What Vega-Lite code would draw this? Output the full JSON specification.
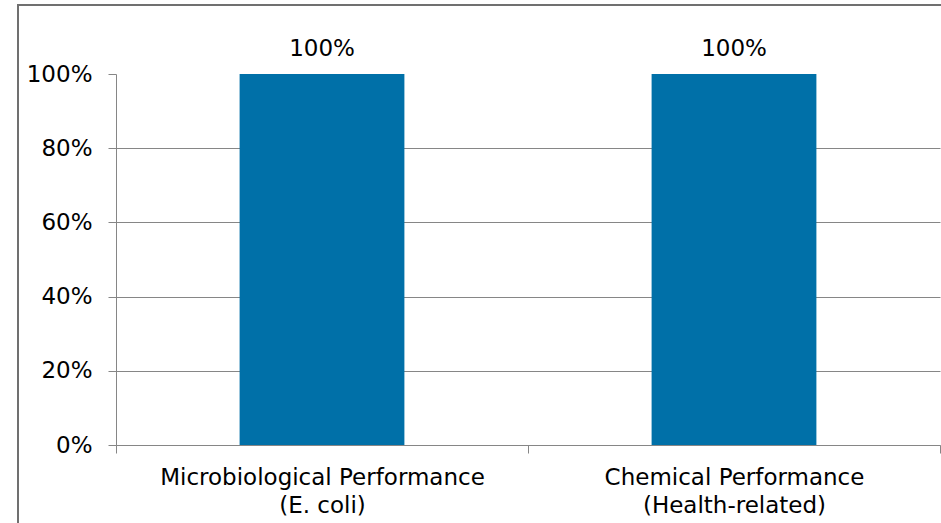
{
  "$schema": "https://vega.github.io/schema/vega-lite/v6.json",
  "autosize": {"type": "none"},
  "padding": {"left": 18, "top": 5, "right": 0, "bottom": 0},
  "width": 930,
  "height": 525,
  "background": "white",
  "config": {
    "view": {"stroke": "#707070", "strokeWidth": 2},
    "font": "DejaVu Sans"
  },
  "data": {
    "values": [
      {"category": "Microbiological Performance (E. coli)", "share": 1},
      {"category": "Chemical Performance (Health-related)", "share": 1}
    ]
  },
  "encoding": {
    "x": {
      "field": "category",
      "type": "nominal",
      "sort": null,
      "scale": {"range": [98, 922], "paddingInner": 0, "paddingOuter": 0},
      "axis": {
        "title": null,
        "orient": "bottom",
        "offset": -85,
        "labelAngle": 0,
        "labelFont": "DejaVu Sans",
        "labelFontSize": 23,
        "labelColor": "#000000",
        "labelPadding": 13,
        "labelLineHeight": 28,
        "labelLimit": 0,
        "labelExpr": "[slice(datum.label, 0, indexof(datum.label, ' (')), slice(datum.label, indexof(datum.label, ' (') + 1)]",
        "tickBand": "extent",
        "tickSize": 8,
        "tickColor": "#868686",
        "domainColor": "#868686",
        "grid": false
      }
    },
    "y": {
      "field": "share",
      "type": "quantitative",
      "scale": {"domain": [0, 1], "range": [440, 69], "nice": false},
      "axis": {
        "title": null,
        "orient": "left",
        "offset": -98,
        "values": [0, 0.2, 0.4, 0.6, 0.8, 1],
        "format": ".0%",
        "labelFont": "DejaVu Sans",
        "labelFontSize": 23,
        "labelColor": "#000000",
        "labelPadding": 16,
        "tickSize": 8,
        "tickColor": "#868686",
        "domainColor": "#868686",
        "grid": true,
        "gridColor": "#868686",
        "gridOpacity": {"condition": {"test": "datum.value >= 1", "value": 0}, "value": 1}
      }
    }
  },
  "layer": [
    {
      "mark": {"type": "bar", "color": "#0070A8", "width": {"band": 0.4}}
    },
    {
      "mark": {"type": "text", "baseline": "alphabetic", "dy": -18, "fontSize": 23, "font": "DejaVu Sans", "color": "#000000"},
      "encoding": {
        "text": {"field": "share", "type": "quantitative", "format": ".0%"}
      }
    }
  ]
}
